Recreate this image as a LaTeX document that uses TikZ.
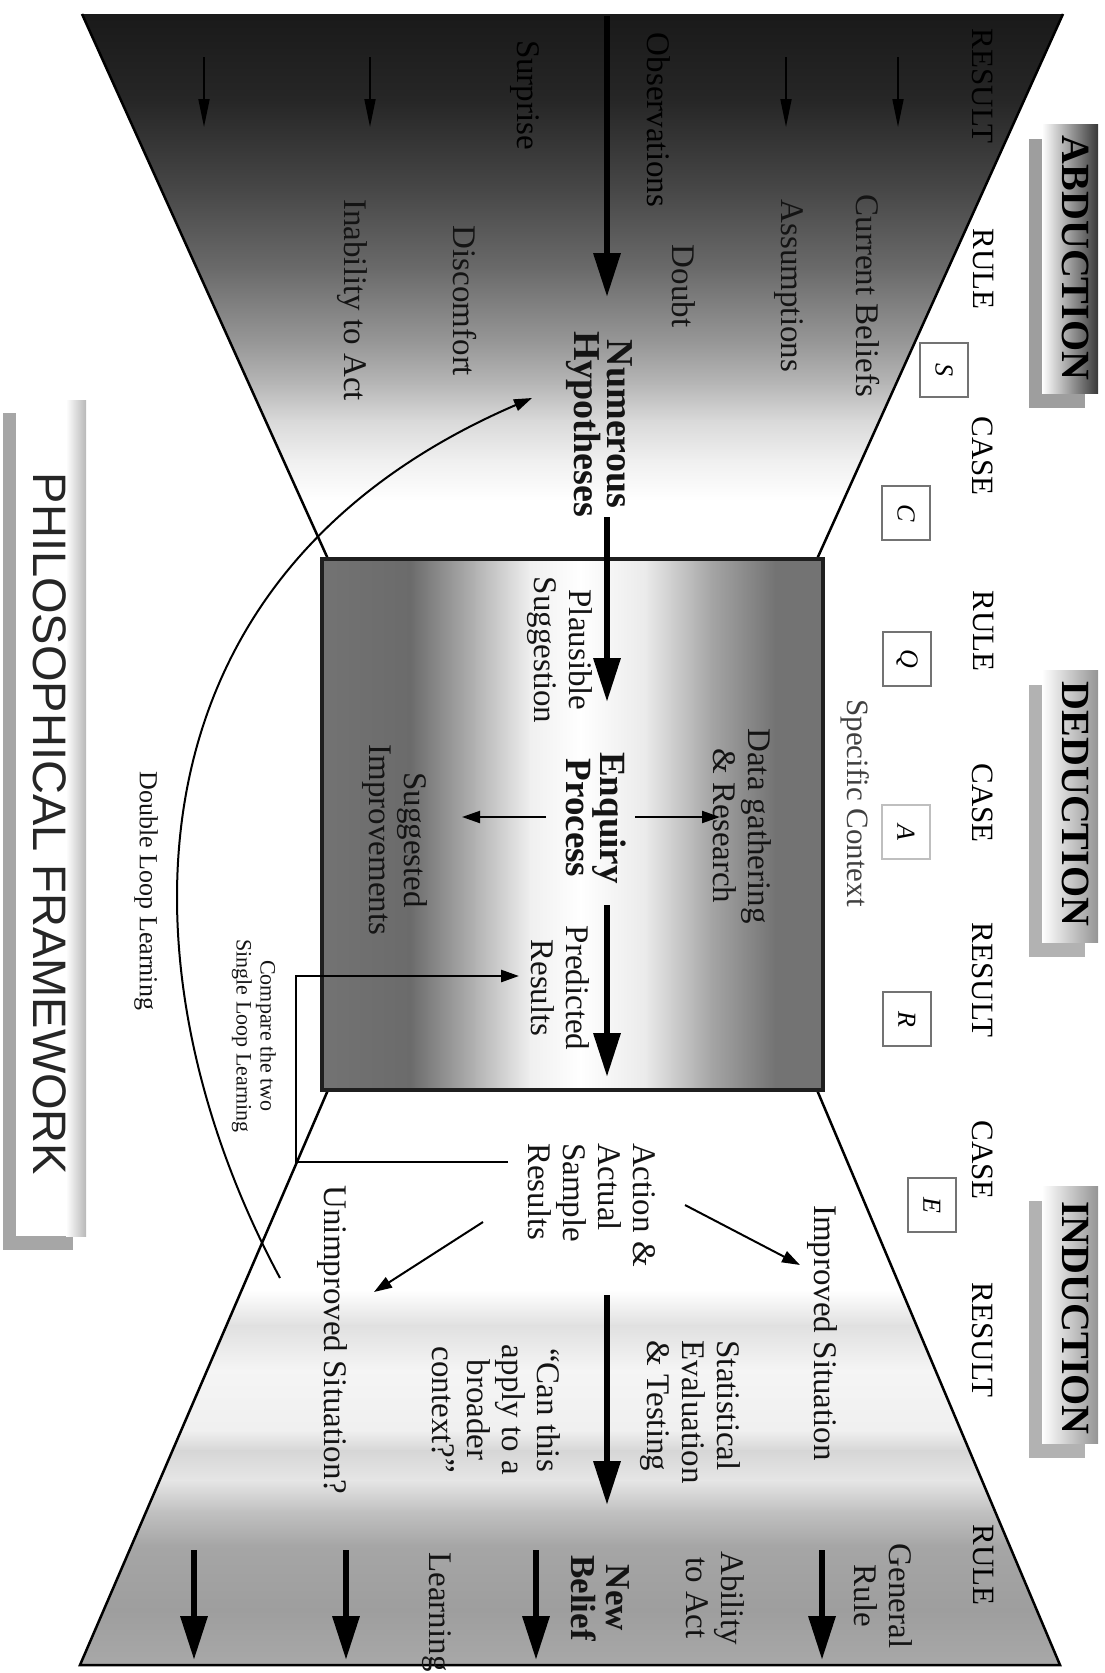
\documentclass[tikz,border=0pt]{standalone}
\usepackage{fontspec}
\setmainfont{Liberation Serif}
\setsansfont{Liberation Sans}
\usetikzlibrary{arrows.meta}

\begin{document}
\begin{tikzpicture}[x=1pt,y=-1pt,
  txt/.style={rotate=-90, inner sep=0pt, align=center, text=black!92, font=\fontsize{33}{35}\selectfont},
  boldtxt/.style={txt, font=\fontsize{38}{33}\selectfont\bfseries},
  colhead/.style={rotate=-90, inner sep=0pt, font=\fontsize{31}{33}\selectfont},
  modehead/.style={rotate=-90, inner sep=0pt, font=\fontsize{40}{42}\selectfont\bfseries},
  letterbox/.style={rotate=-90, draw=black!55, line width=1.3pt, minimum width=54pt, minimum height=48pt, inner sep=0pt, font=\fontsize{26}{28}\selectfont\itshape},
  thick arrow/.style={line width=6.5pt, -{Triangle[length=44pt,width=26pt]}},
  thin arrow/.style={line width=2pt, -{Triangle[length=18pt,width=12pt]}},
  small arrow/.style={line width=1.8pt, -{Triangle[length=28pt,width=11pt]}},
  bracket/.style={line width=2.6pt, -{Triangle[length=18pt,width=12pt]}},
  edge line/.style={line width=2.5pt, line join=miter},
]
\useasboundingbox (0,0) rectangle (1105,1673);

% ---------- upper funnel (abduction), dark at the top ----------
\begin{scope}
  \clip (82,14) -- (1063,14) -- (817,559) -- (328,559) -- cycle;
  \foreach \ya/\ca/\yb/\cb in {
      14/black!90/100/black!85,
      100/black!85/190/black!72,
      190/black!72/270/black!58,
      270/black!58/345/black!40,
      345/black!40/385/black!28,
      385/black!28/420/black!15,
      420/black!15/460/black!6,
      460/black!6/500/white,
      500/white/560/white}
    \fill[top color=\ca, bottom color=\cb] (0,\ya) rectangle (1105,\yb+1);
\end{scope}
\draw[edge line] (82,14) -- (328,559);
\draw[edge line] (1063,14) -- (817,559);

% ---------- lower funnel (induction), darker towards the bottom ----------
\begin{scope}
  \clip (328,1090) -- (817,1090) -- (1060,1665) -- (80,1665) -- cycle;
  \foreach \ya/\ca/\yb/\cb in {
      1090/white/1290/white,
      1290/white/1325/black!12,
      1325/black!12/1370/black!4,
      1370/black!4/1430/black!6,
      1430/black!6/1450/black!16,
      1450/black!16/1480/black!10,
      1480/black!10/1510/black!24,
      1510/black!24/1545/black!35,
      1545/black!35/1610/black!38,
      1610/black!38/1666/black!34}
    \fill[top color=\ca, bottom color=\cb] (0,\ya) rectangle (1105,\yb+1);
\end{scope}
\draw[edge line] (328,1090) -- (80,1665) -- (1060,1665) -- (817,1090);

% ---------- central enquiry box, light down the middle ----------
\begin{scope}
  \clip (322,559) rectangle (823,1090);
  \foreach \xa/\ca/\xb/\cb in {
      322/black!55/410/black!58,
      410/black!58/475/black!30,
      475/black!30/530/black!6,
      530/black!6/580/white,
      580/white/645/black!8,
      645/black!8/710/black!35,
      710/black!35/775/black!55,
      775/black!55/823/black!55}
    \fill[left color=\ca, right color=\cb] (\xa,559) rectangle (\xb+1,1090);
\end{scope}
\draw[line width=4pt, black!88] (322,559) rectangle (823,1090);

% ---------- mode labels with drop shadows ----------
\fill[black!38] (1029,139) rectangle (1085,408);
\fill[left color=white, right color=black!78] (1042,124) rectangle (1098,393);
\node[modehead] (abd) at (1076,258) {ABDUCTION};

\fill[black!30] (1029,685) rectangle (1085,957);
\fill[left color=white, right color=black!42] (1042,670) rectangle (1098,942);
\node[modehead] (ded) at (1076,804) {DEDUCTION};

\fill[black!30] (1029,1201) rectangle (1085,1458);
\fill[left color=white, right color=black!42] (1042,1186) rectangle (1098,1443);
\node[modehead] (ind) at (1076,1318) {INDUCTION};

% ---------- rule / case / result sequence ----------
\node[colhead] (h1) at (983,86)   {RESULT};
\node[colhead] (h2) at (983,269)  {RULE};
\node[colhead] (h3) at (983,456)  {CASE};
\node[colhead] (h4) at (983,631)  {RULE};
\node[colhead] (h5) at (983,803)  {CASE};
\node[colhead] (h6) at (983,980)  {RESULT};
\node[colhead] (h7) at (983,1160) {CASE};
\node[colhead] (h8) at (983,1340) {RESULT};
\node[colhead] (h9) at (983,1565) {RULE};

\node[letterbox] (bS) at (944,370)  {S};
\node[letterbox] (bC) at (906,513)  {C};
\node[letterbox] (bQ) at (907,659)  {Q};
\node[letterbox, draw=black!25] (bA) at (906,832)  {A};
\node[letterbox] (bR) at (907,1019) {R};
\node[letterbox] (bE) at (932,1205) {E};
\node[colhead, text=black!75] (ctx) at (855,803) {Specific Context};

% ---------- abduction texts ----------
\node[txt, text=black] (obs) at (659,120) {Observations};
\node[txt, text=black] (sur) at (525,95) {Surprise};
\node[txt] (cb)  at (868,296) {Current Beliefs};
\node[txt] (asm) at (789,286) {Assumptions};
\node[txt] (dbt) at (684,286) {Doubt};
\node[boldtxt] (hyp) at (599,424) {Numerous\\Hypotheses};
\node[txt] (dis) at (465,301) {Discomfort};
\node[txt] (ina) at (352,300) {Inability to Act};

\foreach \x [count=\i] in {204,370,786,898} {
  \coordinate (ta\i) at (\x,57);
  \coordinate (tb\i) at (\x,127);
  \draw[small arrow] (ta\i) -- (tb\i);
}

% ---------- deduction texts ----------
\node[txt] (pla) at (560,650) {Plausible\\Suggestion};
\node[boldtxt, font=\fontsize{37}{34}\selectfont\bfseries] (enq) at (596,818) {Enquiry\\Process};
\node[txt] (dat) at (742,826) {Data gathering\\\& Research};
\node[txt] (sug) at (395,840) {Suggested\\Improvements};
\node[txt] (pre) at (560,988) {Predicted\\Results};
\node[txt, font=\fontsize{22}{24}\selectfont] (cmp) at (254,1036) {Compare the two\\Single Loop Learning};
\node[txt, font=\fontsize{26}{28}\selectfont] (dll) at (146,891) {Double Loop Learning};

% ---------- induction texts ----------
\node[txt, align=left] (act) at (592,1205) {Action \&\\Actual\\Sample\\Results};
\node[txt] (imp) at (822,1333) {Improved Situation};
\node[txt] (unimp) at (332,1340) {Unimproved Situation?};
\node[txt, align=left] (stat) at (690,1412) {Statistical\\Evaluation\\\& Testing};
\node[txt] (can) at (496,1410) {``Can this\\apply to a\\broader\\context?''};
\node[txt] (gen) at (883,1596) {General\\Rule};
\node[txt] (abl) at (715,1598) {Ability\\to Act};
\node[boldtxt, font=\fontsize{35}{35}\selectfont\bfseries] (nb) at (600,1598) {New\\Belief};
\node[txt] (lrn) at (437,1612) {Learning};

\foreach \x [count=\i] in {194,346,536,822} {
  \coordinate (ba\i) at (\x,1550);
  \coordinate (bb\i) at (\x,1660);
  \draw[thick arrow] (ba\i) -- (bb\i);
}

% ---------- main flow ----------
\coordinate (m1) at (607,16);
\coordinate (m2) at (607,297);
\coordinate (m3) at (607,517);
\coordinate (m4) at (607,702);
\coordinate (m5) at (607,905);
\coordinate (m6) at (607,1077);
\coordinate (m7) at (607,1295);
\coordinate (m8) at (607,1505);
\draw[thick arrow] (m1) -- (m2);
\draw[thick arrow] (m3) -- (m4);
\draw[thick arrow] (m5) -- (m6);
\draw[thick arrow] (m7) -- (m8);

% enquiry branches
\coordinate (er0) at (635,817);
\coordinate (er1) at (720,817);
\coordinate (el0) at (546,817);
\coordinate (el1) at (462,817);
\draw[thin arrow] (er0) -- (er1);
\draw[thin arrow] (el0) -- (el1);

% outcomes of action
\coordinate (ai0) at (685,1205);
\coordinate (ai1) at (800,1265);
\coordinate (au0) at (483,1222);
\coordinate (au1) at (374,1292);
\draw[thin arrow] (ai0) -- (ai1);
\draw[thin arrow] (au0) -- (au1);

% single loop: actual results back to predicted results
\coordinate (sl0) at (508,1162);
\coordinate (slx) at (296,1000);
\coordinate (sl1) at (519,976);
\draw[bracket] (sl0) -- (sl0 -| slx) |- (sl1);

% double loop: unimproved situation back to the hypotheses
\coordinate (dl0) at (280,1278);
\coordinate (dl1) at (532,398);
\draw[thin arrow] (dl0) .. controls (120,980) and (110,580) .. (dl1);

% ---------- framework caption ----------
\fill[black!35] (3,413) rectangle (73,1250);
\fill[white] (16,400) rectangle (86,1236);
\fill[left color=white, right color=black!28] (66,400) rectangle (86,1236);
\node[rotate=-90, inner sep=0pt, font=\sffamily\fontsize{47}{50}\selectfont, text=black!85] (phil) at (50,824) {PHILOSOPHICAL FRAMEWORK};

\end{tikzpicture}
\end{document}
